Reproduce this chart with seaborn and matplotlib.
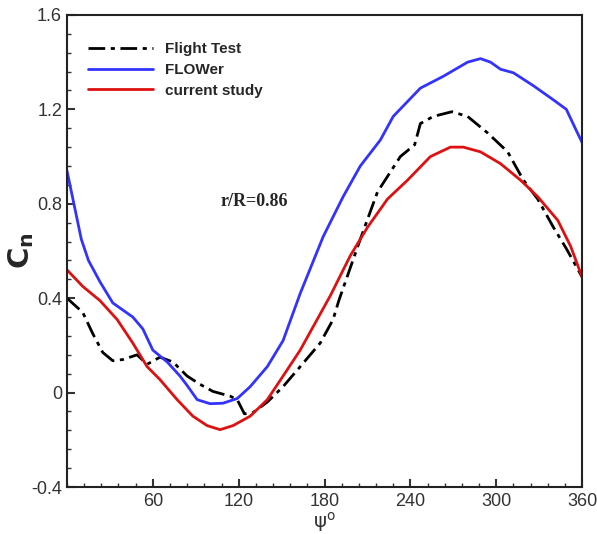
import numpy as np
import pandas as pd
import matplotlib
matplotlib.use("Agg")
import matplotlib.pyplot as plt
import seaborn as sns
from matplotlib.ticker import MultipleLocator

# Flight Test (dash-dot black)
psi_flight = [0, 11, 18, 25, 32, 39, 49, 56, 65, 74, 84, 93, 102, 114, 119, 124, 130,
              140, 151, 163, 177, 186, 190, 205, 217, 233, 243, 247, 256, 269, 280,
              294, 308, 319, 329, 340, 349, 360]
cn_flight = [0.40, 0.34, 0.25, 0.17, 0.135, 0.14, 0.16, 0.12, 0.15, 0.13, 0.07, 0.035,
             0.005, -0.015, -0.03, -0.09, -0.085, -0.04, 0.025, 0.11, 0.21, 0.31, 0.39,
             0.65, 0.85, 1.00, 1.05, 1.14, 1.17, 1.19, 1.17, 1.10, 1.02, 0.90, 0.82,
             0.70, 0.61, 0.49]

# FLOWer (blue)
psi_flower = [0, 10, 15, 23, 32, 46, 53, 60, 70, 79, 84, 91, 100, 109, 119, 128, 140,
              151, 163, 179, 193, 205, 219, 228, 247, 263, 280, 289, 296, 303, 312,
              326, 340, 349, 356, 360]
cn_flower = [0.94, 0.65, 0.56, 0.47, 0.38, 0.32, 0.27, 0.18, 0.13, 0.07, 0.03, -0.03,
             -0.047, -0.045, -0.025, 0.025, 0.11, 0.22, 0.42, 0.66, 0.83, 0.96, 1.07,
             1.17, 1.29, 1.34, 1.40, 1.415, 1.40, 1.37, 1.355, 1.30, 1.24, 1.20, 1.11,
             1.06]

# current study (red)
psi_current = [0, 11, 23, 35, 46, 56, 65, 77, 88, 98, 107, 116, 128, 140, 151, 163,
               184, 198, 210, 224, 238, 254, 268, 277, 289, 303, 317, 329, 343, 352, 360]
cn_current = [0.52, 0.45, 0.39, 0.31, 0.21, 0.11, 0.055, -0.03, -0.10, -0.14, -0.157,
              -0.14, -0.10, -0.03, 0.07, 0.18, 0.41, 0.58, 0.70, 0.82, 0.90, 1.00,
              1.04, 1.04, 1.02, 0.97, 0.90, 0.83, 0.73, 0.62, 0.49]

sns.set_style("ticks")
plt.rcParams["font.family"] = ["Liberation Sans", "DejaVu Sans"]

fig = plt.figure(figsize=(5.97, 5.34), dpi=100)
ax = fig.add_axes([0.1122, 0.088, 0.8628, 0.884])

sns.lineplot(x=psi_flight, y=cn_flight, ax=ax, color="black", lw=2,
             label="Flight Test", sort=False)
ax.lines[-1].set_dashes([6, 2, 1.5, 2])
sns.lineplot(x=psi_flower, y=cn_flower, ax=ax, color="#3333ff", lw=2,
             label="FLOWer", sort=False)
sns.lineplot(x=psi_current, y=cn_current, ax=ax, color="#dd1111", lw=2,
             label="current study", sort=False)

ax.set_xlim(0, 360)
ax.set_ylim(-0.4, 1.6)
ax.xaxis.set_minor_locator(MultipleLocator(12))
ax.yaxis.set_minor_locator(MultipleLocator(0.08))
ax.set_xticks([60, 120, 180, 240, 300, 360])
ax.set_xticklabels(["60", "120", "180", "240", "300", "360"])
ax.set_yticks([-0.4, 0, 0.4, 0.8, 1.2, 1.6])
ax.set_yticklabels(["-0.4", "0", "0.4", "0.8", "1.2", "1.6"])
ax.tick_params(which="major", direction="in", length=6, width=1.5,
               labelsize=13, colors="#333333", labelcolor="#333333")
ax.tick_params(which="minor", direction="in", length=3, width=1, colors="#333333")
ax.tick_params(axis="x", pad=4)
for s in ax.spines.values():
    s.set_linewidth(1.5)
    s.set_color("#222222")

ax.set_xlabel(r"$\mathrm{\psi}^{\mathrm{o}}$", fontsize=14, color="#333333")
ax.xaxis.set_label_coords(0.5, -0.049)
ax.set_ylabel(r"$\mathbf{C_n}$", fontsize=21)
ax.yaxis.set_label_coords(-0.06, 0.5)

ax.text(131, 0.81, "r/R=0.86", fontsize=13, fontweight="bold",
        family="Liberation Serif", ha="center", va="center")

leg = ax.legend(loc="upper left", bbox_to_anchor=(0.012, 0.975), frameon=False,
                handlelength=4.2, prop={"weight": "bold", "size": 11},
                labelspacing=0.45, borderaxespad=0.6)

fig.savefig("out.png", dpi=100)
